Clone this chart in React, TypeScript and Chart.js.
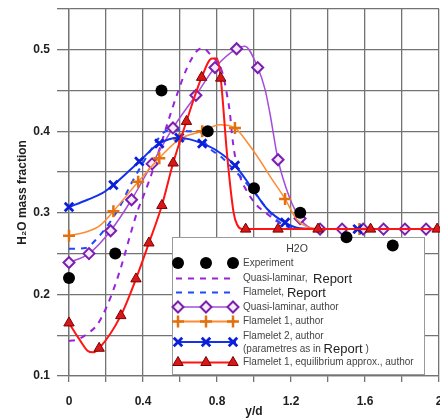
import React, { useEffect, useRef } from 'react';
import { Chart, registerables } from 'chart.js';
import { drawPoint } from 'chart.js/helpers';

Chart.register(...registerables);

// ---------- data ----------
const expX = [0, 0.25, 0.5, 0.75, 1.0, 1.25, 1.5, 1.75];
const expY = [0.22, 0.25, 0.45, 0.40, 0.33, 0.30, 0.27, 0.26];

// Quasi-laminar, Report (dashed purple)
const qlRepX = [0, 0.05, 0.1, 0.15, 0.2, 0.25, 0.29, 0.33, 0.37, 0.41, 0.45, 0.5, 0.55, 0.59, 0.637, 0.69, 0.725, 0.76, 0.83, 0.853, 0.87, 0.882, 0.897, 0.924, 0.968, 1.016, 1.07, 1.12, 1.18, 1.26, 2.0];
const qlRepY = [0.143, 0.145, 0.152, 0.162, 0.183, 0.212, 0.24, 0.272, 0.302, 0.325, 0.35, 0.386, 0.422, 0.449, 0.477, 0.498, 0.502, 0.495, 0.471, 0.446, 0.422, 0.394, 0.37, 0.345, 0.324, 0.309, 0.299, 0.29, 0.284, 0.28, 0.28];

// Flamelet, Report (dashed blue)
const flRepX = [0, 0.09, 0.157, 0.22, 0.285, 0.33, 0.374, 0.44, 0.51, 0.56, 0.654, 0.708, 0.735, 0.83, 0.924, 1.016, 1.07, 1.14, 1.25, 2.0];
const flRepY = [0.256, 0.257, 0.27, 0.288, 0.312, 0.333, 0.351, 0.376, 0.398, 0.402, 0.40, 0.40, 0.386, 0.367, 0.345, 0.321, 0.305, 0.288, 0.28, 0.28];

// Quasi-laminar, author (purple diamonds)
const qlAuLineX = [0, 0.108, 0.225, 0.338, 0.449, 0.562, 0.686, 0.789, 0.906, 0.95, 1.02, 1.06, 1.086, 1.13, 1.19, 1.249, 1.3, 1.357, 2.0];
const qlAuLineY = [0.239, 0.25, 0.278, 0.316, 0.36, 0.404, 0.444, 0.478, 0.501, 0.504, 0.478, 0.451, 0.422, 0.365, 0.32, 0.293, 0.282, 0.28, 0.28];
const qlAuMarkX = [0, 0.108, 0.225, 0.338, 0.449, 0.562, 0.686, 0.789, 0.906, 1.02, 1.13, 1.249, 1.357, 1.476, 1.59, 1.70, 1.816, 1.93];
const qlAuMarkY = [0.239, 0.25, 0.278, 0.316, 0.36, 0.404, 0.444, 0.478, 0.501, 0.478, 0.365, 0.293, 0.28, 0.28, 0.28, 0.28, 0.28, 0.28];

// Flamelet 1, author (orange plus)
const fl1LineX = [0, 0.1, 0.17, 0.24, 0.374, 0.488, 0.596, 0.72, 0.816, 0.897, 0.968, 1.03, 1.086, 1.168, 1.23, 1.3, 1.4, 2.0];
const fl1LineY = [0.272, 0.277, 0.285, 0.302, 0.338, 0.367, 0.39, 0.40, 0.408, 0.404, 0.385, 0.365, 0.345, 0.317, 0.292, 0.282, 0.28, 0.28];
const fl1MarkX = [0, 0.24, 0.374, 0.488, 0.596, 0.72, 0.897, 1.168, 1.57];
const fl1MarkY = [0.272, 0.302, 0.338, 0.367, 0.39, 0.40, 0.404, 0.317, 0.28];

// Flamelet 2, author (blue x)
const fl2LineX = [0, 0.1, 0.18, 0.24, 0.38, 0.488, 0.596, 0.654, 0.72, 0.8, 0.897, 0.99, 1.07, 1.168, 1.25, 1.35, 2.0];
const fl2LineY = [0.307, 0.316, 0.324, 0.334, 0.363, 0.385, 0.392, 0.39, 0.385, 0.376, 0.358, 0.33, 0.305, 0.288, 0.281, 0.28, 0.28];
const fl2MarkX = [0, 0.24, 0.38, 0.488, 0.596, 0.72, 0.897, 1.168, 1.56];
const fl2MarkY = [0.307, 0.334, 0.363, 0.385, 0.392, 0.385, 0.358, 0.288, 0.28];

// Flamelet 1, equilibrium approx., author (red triangles)
const eqLineX = [0, 0.05, 0.1, 0.13, 0.163, 0.28, 0.362, 0.432, 0.502, 0.563, 0.635, 0.717, 0.773, 0.80, 0.82, 0.855, 0.89, 0.91, 0.935, 2.0];
const eqLineY = [0.165, 0.147, 0.131, 0.129, 0.134, 0.174, 0.219, 0.263, 0.309, 0.361, 0.412, 0.466, 0.489, 0.489, 0.465, 0.37, 0.3, 0.285, 0.28, 0.28];
const eqMarkX = [0, 0.163, 0.28, 0.362, 0.432, 0.502, 0.563, 0.635, 0.717, 0.82, 0.955, 1.13, 1.346, 1.63, 1.99];
const eqMarkY = [0.165, 0.134, 0.174, 0.219, 0.263, 0.309, 0.361, 0.412, 0.466, 0.465, 0.28, 0.28, 0.28, 0.28, 0.28];

// ticks
const xTickValues = [0, 0.4, 0.8, 1.2, 1.6, 2];
const xTickLabels = ['0', '0.4', '0.8', '1.2', '1.6', '2'];
const yTickValues = [0.1, 0.2, 0.3, 0.4, 0.5];
const yTickLabels = ['0.1', '0.2', '0.3', '0.4', '0.5'];

const xTitle = 'y/d';
const yTitle = 'H\u2082O mass fraction';

// legend text
const legendTitle = 'H2O';
const legendTexts = [
  [[['Experiment', 0]]],
  [[['Quasi-laminar,  ', 0], ['Report', 1]]],
  [[['Flamelet, ', 0], ['Report', 1]]],
  [[['Quasi-laminar, author', 0]]],
  [[['Flamelet 1, author', 0]]],
  [[['Flamelet 2, author', 0]], [['(parametres as in ', 0], ['Report', 1], [' )', 0]]],
  [[['Flamelet 1, equilibrium approx., author', 0]]],
] as [string, number][][][];

// ---------- styles ----------
const C = {
  grid: '#737373',
  text: '#1e1e1e',
  exp: '#000000',
  qlRep: '#9a22dc',
  flRep: '#2147ff',
  qlAu: '#a64cdc',
  qlAuMark: '#7a1fae',
  fl1: '#ff8a33',
  fl1Mark: '#e2700e',
  fl2: '#1432ee',
  fl2Mark: '#0b1fd8',
  eq: '#ff1414',
  eqFill: '#d81818',
  eqEdge: '#7a0000',
};
const FONT = 'Liberation Sans, Arial, Helvetica, sans-serif';

const pts = (xs: number[], ys: number[]) => xs.map((x, i) => ({ x, y: ys[i] }));

type Sym = {
  pointStyle: string;
  radius: number;
  fill: string;
  stroke: string;
  borderWidth: number;
};

const SYM: Record<string, Sym> = {
  exp: { pointStyle: 'circle', radius: 6, fill: C.exp, stroke: C.exp, borderWidth: 0 },
  qlAu: { pointStyle: 'rectRot', radius: 5.5, fill: '#f4eafa', stroke: C.qlAuMark, borderWidth: 2 },
  fl1: { pointStyle: 'cross', radius: 6, fill: C.fl1Mark, stroke: C.fl1Mark, borderWidth: 2.5 },
  fl2: { pointStyle: 'crossRot', radius: 6, fill: C.fl2Mark, stroke: C.fl2Mark, borderWidth: 2.8 },
  eq: { pointStyle: 'triangle', radius: 6, fill: C.eqFill, stroke: C.eqEdge, borderWidth: 1 },
};

const lineDs = (data: any[], color: string, width: number, dash: number[] = []) => ({
  data,
  borderColor: color,
  backgroundColor: color,
  borderWidth: width,
  borderDash: dash,
  pointRadius: 0,
  showLine: true,
  fill: false,
  cubicInterpolationMode: 'monotone',
  clip: false,
});

const markDs = (data: any[], s: Sym) => ({
  data,
  showLine: false,
  pointStyle: s.pointStyle,
  pointRadius: s.radius,
  pointBackgroundColor: s.fill,
  pointBorderColor: s.stroke,
  pointBorderWidth: s.borderWidth,
  borderColor: s.stroke,
  backgroundColor: s.fill,
  clip: false,
});

const legendPlugin = {
  id: 'boxLegend',
  beforeDatasetsDraw(chart: any) {
    const ctx: CanvasRenderingContext2D = chart.ctx;
    ctx.save();
    const bx = 172.5, by = 237.5, bw = 252, bh = 137;
    ctx.fillStyle = '#ffffff';
    ctx.fillRect(bx, by, bw, bh);
    ctx.strokeStyle = '#9a9a9a';
    ctx.lineWidth = 1;
    ctx.strokeRect(bx, by, bw, bh);

    ctx.fillStyle = '#3a3a3a';
    ctx.font = `10.5px ${FONT}`;
    ctx.textAlign = 'center';
    ctx.textBaseline = 'middle';
    ctx.fillText(legendTitle, 297, 249);

    const symX = [178, 206, 233];
    const rowY = [263, 278.5, 292.5, 307, 321.5, 342, 362.5];
    const textY = [[263], [278.5], [292.5], [307.5], [321.5], [336, 349], [362.5]];

    const drawLine = (y: number, color: string, width: number, dash: number[]) => {
      ctx.save();
      ctx.strokeStyle = color;
      ctx.lineWidth = width;
      ctx.setLineDash(dash);
      ctx.beginPath();
      ctx.moveTo(176, y);
      ctx.lineTo(236, y);
      ctx.stroke();
      ctx.restore();
    };
    const drawSyms = (y: number, s: Sym) => {
      for (const x of symX) {
        ctx.save();
        ctx.fillStyle = s.fill;
        ctx.strokeStyle = s.stroke;
        ctx.lineWidth = s.borderWidth;
        drawPoint(ctx, { pointStyle: s.pointStyle as any, radius: s.radius, rotation: 0, borderWidth: s.borderWidth }, x, y);
        ctx.restore();
      }
    };

    drawSyms(rowY[0], SYM.exp);
    drawLine(rowY[1], C.qlRep, 2, [6, 6]);
    drawLine(rowY[2], C.flRep, 2, [6, 6]);
    drawLine(rowY[3], C.qlAu, 1.5, []);
    drawSyms(rowY[3], SYM.qlAu);
    drawLine(rowY[4], C.fl1, 2, []);
    drawSyms(rowY[4], SYM.fl1);
    drawLine(rowY[5], C.fl2, 2, []);
    drawSyms(rowY[5], SYM.fl2);
    drawLine(rowY[6], C.eq, 2, []);
    drawSyms(rowY[6], SYM.eq);

    ctx.textAlign = 'left';
    legendTexts.forEach((lines, r) => {
      lines.forEach((segs, li) => {
        let x = 243;
        const y = textY[r][li];
        segs.forEach(([t, big]) => {
          ctx.font = big ? `13px ${FONT}` : `10px ${FONT}`;
          ctx.fillStyle = big ? '#222222' : '#444444';
          ctx.fillText(t, x, big ? y + 0.5 : y);
          x += ctx.measureText(t).width;
        });
      });
    });
    ctx.restore();
  },
};

const findLabel = (v: number, vals: number[], labels: string[]) => {
  const i = vals.findIndex((t) => Math.abs(t - v) < 1e-6);
  return i >= 0 ? labels[i] : '';
};

export default function App() {
  const ref = useRef<HTMLCanvasElement | null>(null);

  useEffect(() => {
    if (!ref.current) return;
    const tickFont = { family: FONT, size: 12, weight: 'bold' as const };
    const chart = new Chart(ref.current, {
      type: 'line',
      data: {
        datasets: [
          markDs(pts(expX, expY), SYM.exp),
          markDs(pts(eqMarkX, eqMarkY), SYM.eq),
          lineDs(pts(eqLineX, eqLineY), C.eq, 2),
          markDs(pts(fl2MarkX, fl2MarkY), SYM.fl2),
          lineDs(pts(fl2LineX, fl2LineY), C.fl2, 2),
          markDs(pts(fl1MarkX, fl1MarkY), SYM.fl1),
          lineDs(pts(fl1LineX, fl1LineY), C.fl1, 1.5),
          markDs(pts(qlAuMarkX, qlAuMarkY), SYM.qlAu),
          lineDs(pts(qlAuLineX, qlAuLineY), C.qlAu, 1.5),
          lineDs(pts(flRepX, flRepY), C.flRep, 2, [6, 6]),
          lineDs(pts(qlRepX, qlRepY), C.qlRep, 2, [6, 6]),
        ] as any,
      },
      options: {
        animation: false,
        responsive: false,
        events: [],
        layout: { padding: { left: 0, top: 7, right: 9, bottom: 0 } },
        plugins: { legend: { display: false }, tooltip: { enabled: false } },
        scales: {
          x: {
            type: 'linear',
            min: 0,
            max: 2,
            ticks: {
              stepSize: 0.2,
              autoSkip: false,
              maxRotation: 0,
              padding: 12,
              color: C.text,
              font: tickFont,
              callback: (v: any) => findLabel(Number(v), xTickValues, xTickLabels),
            },
            grid: { color: C.grid, lineWidth: 1.3, tickLength: 6, drawTicks: true },
            border: { color: C.grid, width: 1.3 },
            title: { display: true, text: xTitle, color: C.text, font: tickFont, padding: { top: 0, bottom: 0 } },
            afterFit: (s: any) => {
              s.height = 43;
              s.paddingLeft = 0;
              s.paddingRight = 0;
            },
          },
          y: {
            type: 'linear',
            min: 0.1,
            max: 0.55,
            ticks: {
              stepSize: 0.05,
              autoSkip: false,
              padding: 7,
              color: C.text,
              font: tickFont,
              callback: (v: any) => findLabel(Number(v), yTickValues, yTickLabels),
            },
            grid: { color: C.grid, lineWidth: 1.3, tickLength: 12, drawTicks: true },
            border: { color: C.grid, width: 1.3 },
            title: { display: true, text: yTitle, color: C.text, font: tickFont, padding: { top: 15, bottom: 0 } },
            afterFit: (s: any) => {
              s.width = 69;
              s.paddingTop = 0;
              s.paddingBottom = 0;
            },
          },
        },
      } as any,
      plugins: [legendPlugin],
    });
    return () => chart.destroy();
  }, []);

  return (
    <div style={{ position: 'fixed', left: 0, top: 0, width: 448, height: 419, background: '#fff' }}>
      <canvas ref={ref} width={448} height={419} style={{ display: 'block', width: 448, height: 419 }} />
    </div>
  );
}
